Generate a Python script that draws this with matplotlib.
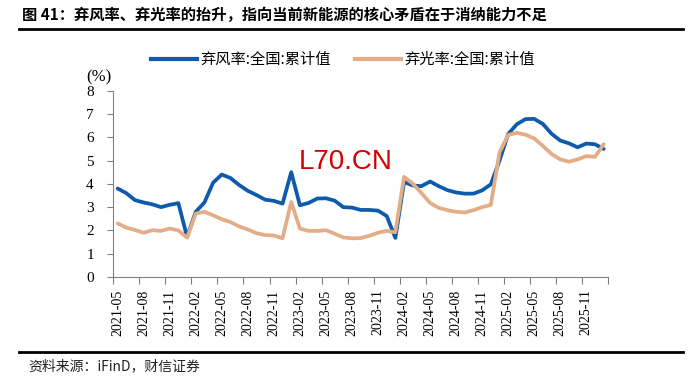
import pandas as pd
import matplotlib.pyplot as plt
from matplotlib.lines import Line2D

plt.rcParams['font.family'] = ['Noto Sans CJK SC', 'DejaVu Sans']

# 月度类目：2021-05 至 2026-01
meses = pd.period_range('2021-05', '2026-01', freq='M').strftime('%Y-%m').tolist()

# 弃风率:全国:累计值 (%)
eolica = [3.80, 3.60, 3.30, 3.20, 3.12, 3.00, 3.10, 3.17, 1.72, 2.80,
          3.20, 4.05, 4.40, 4.25, 3.95, 3.70, 3.52, 3.32, 3.27, 3.15,
          4.50, 3.08, 3.18, 3.37, 3.38, 3.28, 3.00, 2.98, 2.88, 2.88,
          2.85, 2.62, 1.68, 4.08, 3.93, 3.90, 4.10, 3.90, 3.73, 3.63,
          3.58, 3.58, 3.72, 3.98, 5.00, 6.14, 6.56, 6.78, 6.79, 6.57,
          6.15, 5.86, 5.74, 5.57, 5.73, 5.70, 5.50]

# 弃光率:全国:累计值 (%)
solar = [2.30, 2.12, 2.02, 1.90, 2.01, 1.98, 2.08, 2.00, 1.69, 2.72,
         2.80, 2.65, 2.48, 2.36, 2.17, 2.04, 1.88, 1.80, 1.78, 1.66,
         3.22, 2.08, 1.98, 1.98, 2.01, 1.86, 1.70, 1.66, 1.67, 1.77,
         1.90, 1.98, 1.92, 4.30, 4.01, 3.61, 3.18, 2.97, 2.87, 2.80,
         2.77, 2.87, 3.00, 3.10, 5.35, 6.10, 6.19, 6.11, 5.95, 5.63,
         5.28, 5.05, 4.95, 5.05, 5.19, 5.16, 5.70]

nome_eolica = '弃风率:全国:累计值'
nome_solar = '弃光率:全国:累计值'
azul = '#0E5AAB'
laranja = '#E3AD87'

fig = plt.figure(figsize=(7, 3.85), dpi=100)
ax = fig.add_axes([113.3 / 700, 1 - 277 / 385, (608 - 113.3) / 700, (277 - 90.7) / 385])

x = list(range(len(meses)))
ax.plot(x, eolica, color=azul, lw=2.7, solid_joinstyle='round', solid_capstyle='round')
ax.plot(x, solar, color=laranja, lw=2.7, solid_joinstyle='round', solid_capstyle='round')

ax.set_xlim(-0.5, len(meses) - 0.5)
ax.set_ylim(0, 8)
ax.set_yticks(range(0, 9))
ax.set_yticklabels([str(v) for v in range(0, 9)], family='Liberation Serif', fontsize=11)

# marcas nos limites das categorias, rótulos no centro
ax.set_xticks([i - 0.5 for i in range(0, len(meses) + 1, 3)], minor=True)
ax.set_xticks(x[::3])
ax.set_xticklabels(meses[::3], rotation=90, family='Liberation Serif', fontsize=10)
ax.tick_params(axis='x', which='major', length=0, pad=9)
ax.tick_params(axis='x', which='minor', length=5, color='#808080', width=0.8)
ax.tick_params(axis='y', length=4, color='#808080', width=0.8, pad=10)

for lado in ['top', 'right']:
    ax.spines[lado].set_visible(False)
for lado in ['left', 'bottom']:
    ax.spines[lado].set_color('#808080')
    ax.spines[lado].set_linewidth(0.8)

fig.text(99 / 700, 1 - 77 / 385, '(%)', family='Liberation Serif', fontsize=12,
         ha='center', va='center')

handles = [Line2D([], [], color=azul, lw=3), Line2D([], [], color=laranja, lw=3)]
fig.legend(handles, [nome_eolica, nome_solar], loc='center', ncol=2,
           bbox_to_anchor=(343 / 700, 1 - 59.5 / 385), frameon=False,
           fontsize=11, handlelength=3.0, handletextpad=0.2, columnspacing=1.6)

fig.text(22 / 700, 1 - 15 / 385, '图 41：弃风率、弃光率的抬升，指向当前新能源的核心矛盾在于消纳能力不足',
         fontsize=11, fontweight='bold', ha='left', va='center')
fig.add_artist(Line2D([19 / 700, 683 / 700], [1 - 29 / 385, 1 - 29 / 385], color='black', lw=2))
fig.add_artist(Line2D([19 / 700, 683 / 700], [1 - 351.5 / 385, 1 - 351.5 / 385], color='black', lw=2))
fig.text(28 / 700, 1 - 366 / 385, '资料来源：iFinD，财信证券', fontsize=10,
         ha='left', va='center', style='italic', color='#222222')

fig.text(346 / 700, 1 - 162 / 385, 'L70.CN', family='Liberation Sans', fontsize=20,
         color='#D40000', ha='center', va='center')

fig.savefig('out.png', dpi=100)
